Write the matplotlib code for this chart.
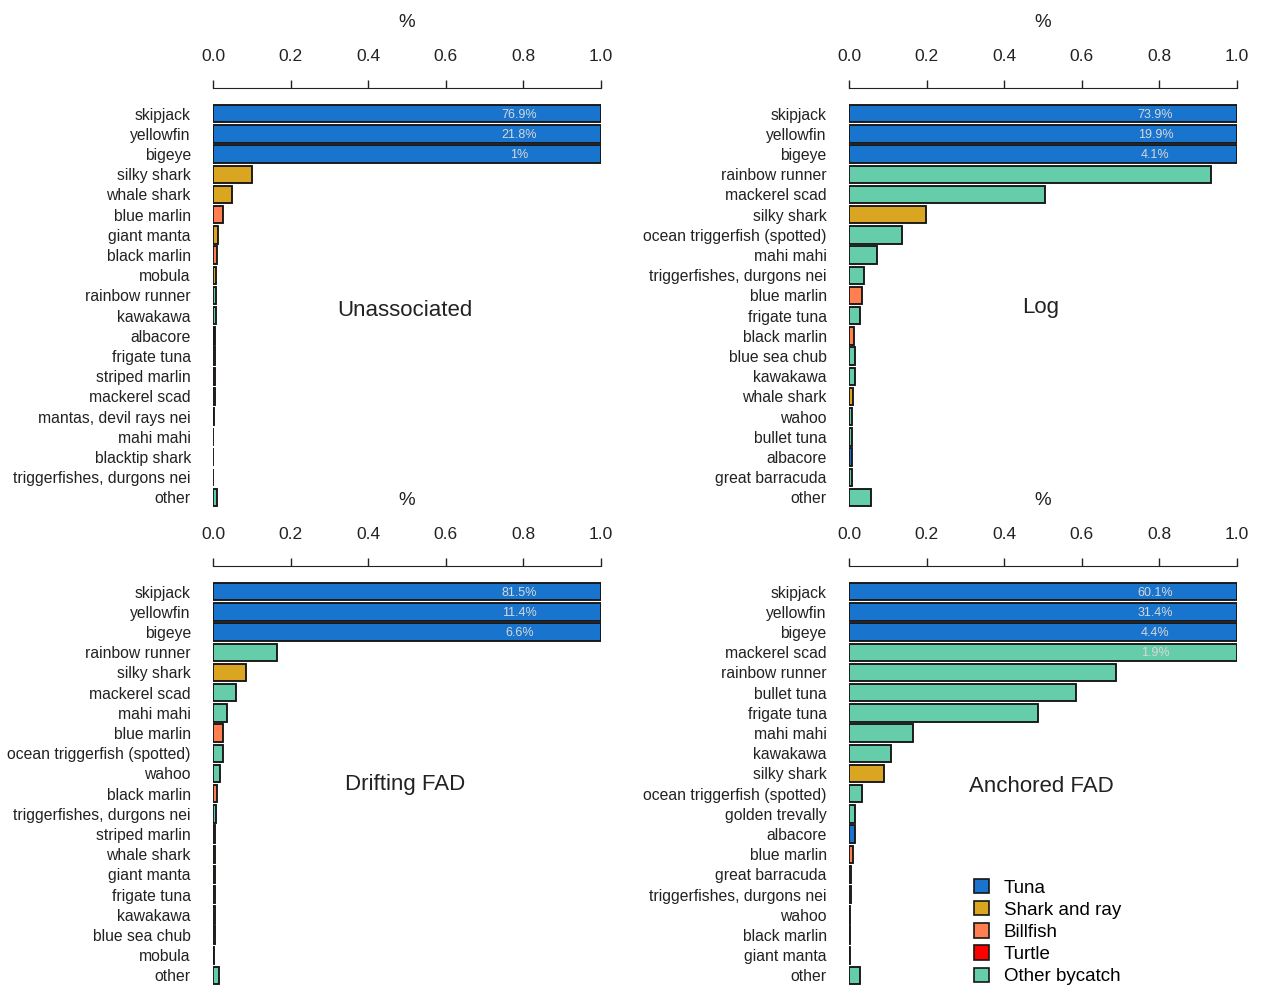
import numpy as np
import matplotlib
matplotlib.use("Agg")
import matplotlib.pyplot as plt
from matplotlib.patches import Patch

plt.rcParams['font.family'] = ['Liberation Sans', 'DejaVu Sans']

group_colors = {
    "Tuna": "#1874CD",
    "Shark and ray": "#DAA520",
    "Billfish": "#FF7F50",
    "Turtle": "#FF0000",
    "Other bycatch": "#66CDAA",
}

species_group = {
    "skipjack": "Tuna", "yellowfin": "Tuna", "bigeye": "Tuna", "albacore": "Tuna",
    "silky shark": "Shark and ray", "whale shark": "Shark and ray",
    "giant manta": "Shark and ray", "mobula": "Shark and ray",
    "mantas, devil rays nei": "Shark and ray", "blacktip shark": "Shark and ray",
    "blue marlin": "Billfish", "black marlin": "Billfish", "striped marlin": "Billfish",
}

# Unassociated
una_species = ["skipjack", "yellowfin", "bigeye", "silky shark", "whale shark",
               "blue marlin", "giant manta", "black marlin", "mobula", "rainbow runner",
               "kawakawa", "albacore", "frigate tuna", "striped marlin", "mackerel scad",
               "mantas, devil rays nei", "mahi mahi", "blacktip shark",
               "triggerfishes, durgons nei", "other"]
una_values = [1.0, 1.0, 1.0, 0.100, 0.049, 0.026, 0.013, 0.009, 0.008, 0.008,
              0.007, 0.004, 0.004, 0.004, 0.004, 0.003, 0.001, 0.001, 0.001, 0.010]
una_labels = ["76.9%", "21.8%", "1%"]

# Log
log_species = ["skipjack", "yellowfin", "bigeye", "rainbow runner", "mackerel scad",
               "silky shark", "ocean triggerfish (spotted)", "mahi mahi",
               "triggerfishes, durgons nei", "blue marlin", "frigate tuna", "black marlin",
               "blue sea chub", "kawakawa", "whale shark", "wahoo", "bullet tuna",
               "albacore", "great barracuda", "other"]
log_values = [1.0, 1.0, 1.0, 0.933, 0.505, 0.198, 0.137, 0.072, 0.039, 0.034,
              0.028, 0.013, 0.015, 0.015, 0.010, 0.007, 0.007, 0.007, 0.007, 0.058]
log_labels = ["73.9%", "19.9%", "4.1%"]

# Drifting FAD
dfad_species = ["skipjack", "yellowfin", "bigeye", "rainbow runner", "silky shark",
                "mackerel scad", "mahi mahi", "blue marlin", "ocean triggerfish (spotted)",
                "wahoo", "black marlin", "triggerfishes, durgons nei", "striped marlin",
                "whale shark", "giant manta", "frigate tuna", "kawakawa", "blue sea chub",
                "mobula", "other"]
dfad_values = [1.0, 1.0, 1.0, 0.165, 0.085, 0.059, 0.037, 0.026, 0.026, 0.018,
               0.011, 0.008, 0.004, 0.004, 0.004, 0.004, 0.004, 0.004, 0.003, 0.015]
dfad_labels = ["81.5%", "11.4%", "6.6%"]

# Anchored FAD
afad_species = ["skipjack", "yellowfin", "bigeye", "mackerel scad", "rainbow runner",
                "bullet tuna", "frigate tuna", "mahi mahi", "kawakawa", "silky shark",
                "ocean triggerfish (spotted)", "golden trevally", "albacore", "blue marlin",
                "great barracuda", "triggerfishes, durgons nei", "wahoo", "black marlin",
                "giant manta", "other"]
afad_values = [1.0, 1.0, 1.0, 1.0, 0.688, 0.585, 0.487, 0.165, 0.108, 0.090,
               0.033, 0.015, 0.015, 0.011, 0.006, 0.006, 0.003, 0.003, 0.003, 0.028]
afad_labels = ["60.1%", "31.4%", "4.4%", "1.9%"]

panels = [
    ("Unassociated", una_species, una_values, una_labels, [0.1684, 0.4868, 0.3067, 0.4085], 0.487),
    ("Log", log_species, log_values, log_labels, [0.6711, 0.4868, 0.3067, 0.4085], 0.495),
    ("Drifting FAD", dfad_species, dfad_values, dfad_labels, [0.1684, 0.0035, 0.3067, 0.4085], 0.497),
    ("Anchored FAD", afad_species, afad_values, afad_labels, [0.6711, 0.0035, 0.3067, 0.4085], 0.493),
]

fig = plt.figure(figsize=(12.65, 9.89), dpi=100)

for title, species, values, labels, rect, ty in panels:
    ax = fig.add_axes(rect)
    n = len(species)
    y = np.arange(n)
    colors = [group_colors[species_group.get(s, "Other bycatch")] for s in species]
    ax.barh(y, values, height=0.86, color=colors, edgecolor="#161616", linewidth=1.35)
    for i, lab in enumerate(labels):
        ax.text(0.79, y[i] + 0.05, lab, ha="center", va="center", fontsize=9, color="#d8d8d8")
    ax.set_ylim(n - 0.5, -0.5)
    ax.set_xlim(0, 1.0)
    ax.set_yticks(y)
    ax.set_yticklabels(species, fontsize=11.3, color="#222222")
    ax.tick_params(axis="y", length=0, pad=16)
    ax.xaxis.tick_top()
    ax.xaxis.set_label_position("top")
    ax.set_xticks([0.0, 0.2, 0.4, 0.6, 0.8, 1.0])
    ax.set_xticklabels(["0.0", "0.2", "0.4", "0.6", "0.8", "1.0"])
    ax.tick_params(axis="x", direction="out", length=6, width=1, pad=11.5,
                   labelsize=12.5, colors="#222222")
    ax.set_xlabel("%", fontsize=13.5, labelpad=16, color="#222222")
    for side in ("left", "right", "bottom"):
        ax.spines[side].set_visible(False)
    ax.spines["top"].set_position(("outward", 11))
    ax.spines["top"].set_bounds(0, 1)
    ax.spines["top"].set_color("#222222")
    ax.text(0.495, ty, title, transform=ax.transAxes, ha="center", va="center",
            fontsize=16, color="#222222")

handles = [Patch(facecolor=c, edgecolor="#161616", linewidth=1.2, label=g)
           for g, c in group_colors.items()]
fig.legend(handles=handles, loc="upper left", bbox_to_anchor=(0.7625, 0.1208),
           frameon=False, fontsize=13.5, handlelength=0.8, handleheight=0.8,
           handletextpad=0.8, labelspacing=0.24, borderpad=0)

fig.savefig("out.png", dpi=100)
